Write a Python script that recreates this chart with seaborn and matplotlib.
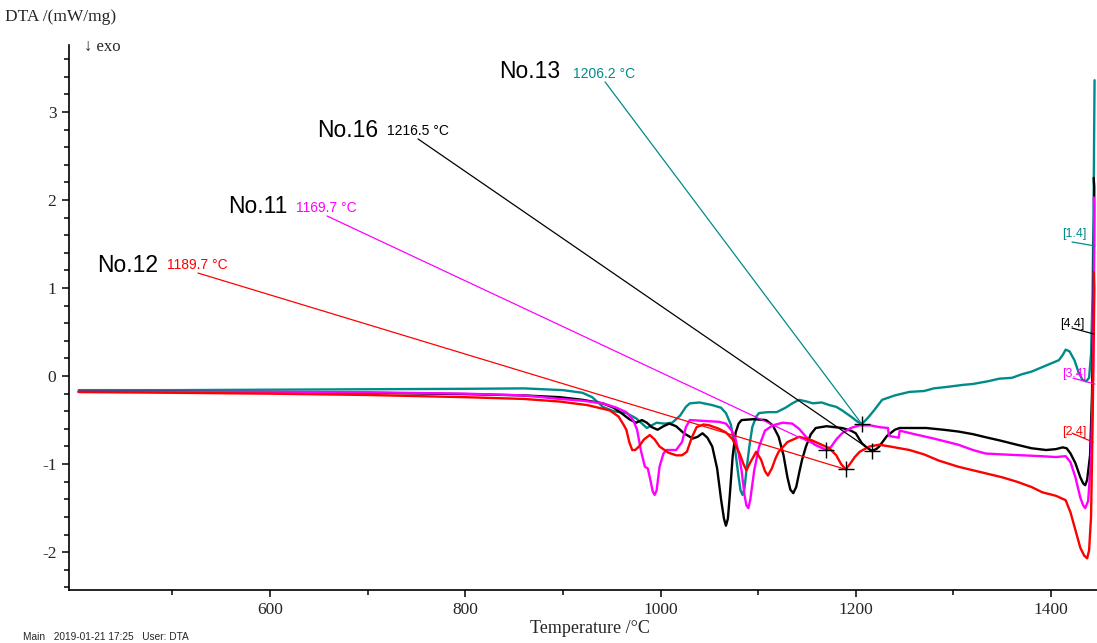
import matplotlib
matplotlib.use("Agg")
import matplotlib.pyplot as plt
from matplotlib.ticker import FixedLocator
import seaborn as sns
import pandas as pd

# ---- DTA curves: temperature (°C) and signal (mW/mg) ----
t_no13 = [404, 500, 600, 700, 800, 860, 900, 920, 930, 941, 952, 965, 975, 986, 991, 996,
          1004, 1012, 1020, 1026, 1030, 1040, 1053, 1062, 1067, 1072, 1076, 1080, 1082, 1084,
          1086, 1088, 1091, 1094, 1098, 1101, 1110, 1119, 1128, 1135, 1142, 1150, 1156, 1165,
          1173, 1180, 1186, 1195, 1202, 1206.2, 1212, 1218, 1227, 1240, 1255, 1270, 1280, 1296,
          1310, 1320, 1335, 1347, 1360, 1370, 1380, 1395, 1408, 1412, 1415, 1419, 1424, 1428,
          1432, 1436, 1439, 1441, 1442.5, 1443.5, 1444.2, 1444.6]
v_no13 = [-0.16, -0.16, -0.155, -0.15, -0.145, -0.14, -0.16, -0.19, -0.24, -0.35, -0.40, -0.42,
          -0.48, -0.59, -0.56, -0.53, -0.54, -0.53, -0.45, -0.35, -0.31, -0.30, -0.33, -0.36,
          -0.42, -0.55, -0.80, -1.15, -1.30, -1.35, -1.28, -1.07, -0.80, -0.58, -0.46, -0.42,
          -0.41, -0.41, -0.36, -0.31, -0.27, -0.29, -0.31, -0.30, -0.33, -0.35, -0.39, -0.46,
          -0.52, -0.545, -0.48, -0.40, -0.27, -0.22, -0.18, -0.17, -0.14, -0.12, -0.10, -0.09,
          -0.06, -0.03, -0.02, 0.02, 0.05, 0.12, 0.18, 0.24, 0.30, 0.28, 0.18, 0.05, -0.04,
          -0.06, -0.02, 0.25, 0.90, 1.80, 2.80, 3.36]

t_no16 = [404, 500, 600, 700, 800, 860, 897, 920, 941, 952, 961, 968, 975, 981, 986, 991, 997,
          1003, 1009, 1016, 1024, 1033, 1038, 1043, 1048, 1053, 1058, 1062, 1065, 1067, 1069,
          1071, 1074, 1077, 1080, 1083, 1095, 1108, 1115, 1121, 1126, 1130, 1133, 1136, 1139,
          1142, 1145, 1149, 1154, 1159, 1170, 1186, 1195, 1200, 1206, 1211, 1216.5, 1221, 1224,
          1232, 1240, 1245, 1272, 1290, 1305, 1320, 1335, 1347, 1365, 1380, 1395, 1405, 1412,
          1416, 1420, 1425, 1430, 1433, 1435, 1437, 1440, 1442, 1443.4, 1444.2, 1444.3, 1443.7]
v_no16 = [-0.18, -0.18, -0.185, -0.19, -0.205, -0.22, -0.24, -0.27, -0.31, -0.36, -0.43, -0.49,
          -0.53, -0.50, -0.53, -0.58, -0.61, -0.57, -0.54, -0.57, -0.65, -0.71, -0.69, -0.65,
          -0.70, -0.80, -1.05, -1.40, -1.62, -1.70, -1.62, -1.35, -0.90, -0.64, -0.54, -0.50,
          -0.49, -0.50, -0.56, -0.69, -0.90, -1.15, -1.29, -1.33, -1.26, -1.10, -0.95, -0.80,
          -0.66, -0.59, -0.57, -0.59, -0.62, -0.65, -0.76, -0.81, -0.85, -0.83, -0.80, -0.68,
          -0.61, -0.59, -0.59, -0.61, -0.63, -0.66, -0.70, -0.73, -0.78, -0.82, -0.84, -0.83,
          -0.81, -0.82, -0.88, -0.99, -1.15, -1.22, -1.24, -1.18, -0.90, -0.20, 0.80, 1.80, 2.15,
          2.25]

t_no11 = [404, 500, 600, 700, 800, 860, 897, 920, 941, 955, 965, 972, 976, 980, 984, 987, 990,
          992, 994, 996, 999, 1003, 1006, 1016, 1022, 1026, 1030, 1045, 1060, 1067, 1073, 1077,
          1080, 1083, 1086, 1088, 1090, 1092, 1096, 1101, 1107, 1115, 1125, 1135, 1142, 1149,
          1158, 1166, 1169.7, 1175, 1180, 1186, 1195, 1204, 1215, 1224, 1233, 1234, 1244, 1245,
          1260, 1280, 1305, 1320, 1333, 1350, 1370, 1390, 1405, 1415, 1420, 1425, 1430, 1433,
          1435, 1438, 1441, 1443, 1444.3, 1444.2, 1443.8]
v_no11 = [-0.18, -0.18, -0.18, -0.185, -0.20, -0.22, -0.26, -0.28, -0.31, -0.36, -0.41, -0.50,
          -0.61, -0.85, -1.03, -1.05, -1.20, -1.31, -1.35, -1.30, -1.03, -0.88, -0.84, -0.84,
          -0.75, -0.58, -0.50, -0.51, -0.52, -0.54, -0.62, -0.72, -0.88, -1.07, -1.35, -1.47,
          -1.50, -1.40, -1.07, -0.80, -0.62, -0.56, -0.53, -0.54, -0.60, -0.69, -0.78, -0.82,
          -0.84, -0.80, -0.72, -0.65, -0.59, -0.56, -0.56, -0.58, -0.59, -0.68, -0.70, -0.62,
          -0.66, -0.71, -0.78, -0.84, -0.88, -0.89, -0.90, -0.91, -0.92, -0.91, -0.98, -1.15,
          -1.38, -1.47, -1.50, -1.42, -0.95, 0.00, 1.50, 1.90, 2.03]

t_no12 = [404, 500, 600, 700, 800, 860, 897, 925, 948, 957, 962, 965, 968, 971, 974, 978, 983,
          989, 994, 999, 1008, 1016, 1022, 1027, 1032, 1037, 1044, 1050, 1060, 1067, 1074, 1081,
          1085, 1088, 1092, 1098, 1103, 1107, 1110, 1114, 1118, 1121, 1130, 1142, 1155, 1165,
          1173, 1180, 1185, 1189.7, 1194, 1199, 1204, 1214, 1224, 1235, 1255, 1270, 1285, 1305,
          1320, 1335, 1350, 1365, 1380, 1391, 1405, 1415, 1420, 1425, 1430, 1434, 1437, 1439,
          1441, 1442.5, 1443.8, 1444.4, 1443.9]
v_no12 = [-0.18, -0.19, -0.20, -0.215, -0.24, -0.26, -0.29, -0.33, -0.39, -0.46, -0.55, -0.61,
          -0.75, -0.84, -0.84, -0.80, -0.72, -0.67, -0.72, -0.80, -0.87, -0.90, -0.90, -0.86,
          -0.70, -0.58, -0.55, -0.56, -0.60, -0.64, -0.72, -0.88, -1.00, -1.07, -0.98, -0.86,
          -0.95, -1.08, -1.13, -1.05, -0.93, -0.86, -0.75, -0.69, -0.73, -0.78, -0.82, -0.90,
          -1.00, -1.06, -1.00, -0.92, -0.86, -0.80, -0.78, -0.80, -0.84, -0.89, -0.96, -1.03,
          -1.07, -1.11, -1.15, -1.20, -1.26, -1.32, -1.36, -1.41, -1.55, -1.75, -1.95, -2.04,
          -2.07, -1.98, -1.60, -0.60, 0.50, 1.00, 1.18]

# ---- peak evaluations ----
sample_names = ["No.13", "No.16", "No.11", "No.12"]
peak_temps = [1206.2, 1216.5, 1169.7, 1189.7]
peak_values = [-0.545, -0.85, -0.84, -1.06]
curve_tags = ["[1.4]", "[4.4]", "[3.4]", "[2.4]"]
colors = ["#008b8b", "#000000", "#ff00ff", "#ff0000"]

# axis ticks
x_major = [600, 800, 1000, 1200, 1400]
x_minor = [500, 700, 900, 1100, 1300]
y_major = [-2, -1, 0, 1, 2, 3]
y_minor = [round(-2.4 + 0.2 * k, 1) for k in range(31)]

# label anchors (temperature, signal) for peak callouts
name_pos = [(897.1, 3.386), (710.6, 2.716), (618.4, 1.852), (485.3, 1.182)]
temp_pos = [(910.4, 3.386), (719.8, 2.739), (626.6, 1.864), (494.5, 1.216)]
leader_start = [(943.2, 3.341), (751.6, 2.693), (658.4, 1.818), (526.2, 1.170)]

# curve tags at right end
tag_pos = [(1411.3, 1.580), (1409.2, 0.557), (1411.3, -0.011), (1411.3, -0.670)]
tag_line = [((1421.5, 1.523), (1445.1, 1.477)),
            ((1421.5, 0.545), (1444.0, 0.477)),
            ((1422.5, -0.023), (1445.1, -0.091)),
            ((1421.5, -0.648), (1443.0, -0.750))]

sns.set_style("ticks")
plt.rcParams["axes.unicode_minus"] = False
SERIF = ["Liberation Serif", "DejaVu Serif"]
SANS = ["Liberation Sans", "DejaVu Sans"]

fig = plt.figure(figsize=(10.97, 6.43), dpi=100)
ax = fig.add_axes([69 / 1097, 53 / 643, 1028 / 1097, 545 / 643])

series = [(t_no13, v_no13), (t_no16, v_no16), (t_no11, v_no11), (t_no12, v_no12)]
draw_order = [3, 2, 0, 1]
for i in draw_order:
    t, v = series[i]
    df = pd.DataFrame({"T": t, "DTA": v})
    sns.lineplot(data=df, x="T", y="DTA", sort=False, estimator=None,
                 color=colors[i], linewidth=1.7, ax=ax, zorder=3 + i * 0.1)

# callouts
for i in range(4):
    ax.plot([leader_start[i][0], peak_temps[i]], [leader_start[i][1], peak_values[i]],
            color=colors[i], linewidth=0.9, zorder=5)
    ax.plot(peak_temps[i], peak_values[i], marker="+", color="#000000",
            markersize=12, markeredgewidth=1.0, linestyle="none", zorder=6)
    ax.text(name_pos[i][0], name_pos[i][1], sample_names[i], ha="right", va="baseline",
            fontsize=16.5, family=SANS, color="#000000")
    ax.text(temp_pos[i][0], temp_pos[i][1], f"{peak_temps[i]:.1f} °C", ha="left",
            va="baseline", fontsize=10, family=SANS, color=colors[i])
    ax.text(tag_pos[i][0], tag_pos[i][1], curve_tags[i], ha="left", va="baseline",
            fontsize=9, family=SANS, color=colors[i])
    (x0, y0), (x1, y1) = tag_line[i]
    ax.plot([x0, x1], [y0, y1], color=colors[i], linewidth=0.9, zorder=5)

ax.set_xlim(394.1, 1447.1)
ax.set_ylim(-2.43, 3.76)
ax.xaxis.set_major_locator(FixedLocator(x_major))
ax.xaxis.set_minor_locator(FixedLocator(x_minor))
ax.yaxis.set_major_locator(FixedLocator(y_major))
ax.yaxis.set_minor_locator(FixedLocator(y_minor))

sns.despine(ax=ax)
for side in ("left", "bottom"):
    ax.spines[side].set_linewidth(1.2)
    ax.spines[side].set_color("#000000")
ax.tick_params(which="major", direction="out", length=5, width=1.1, color="#000000",
               labelsize=12.5, pad=4)
ax.tick_params(which="minor", direction="out", length=3.5, width=1.1, color="#000000")
for lab in ax.get_xticklabels() + ax.get_yticklabels():
    lab.set_family(SERIF)

ax.set_xlabel("Temperature /°C", family=SERIF, fontsize=13)
ax.xaxis.set_label_coords((590 - 69) / 1028, (590 - 620) / 545)
ax.set_ylabel("")

fig.text(5 / 1097, 1 - 17 / 643, "DTA /(mW/mg)", ha="left", va="center",
         family=SERIF, fontsize=12.5)
fig.text(84 / 1097, 1 - 47 / 643, "↓ exo", ha="left", va="center",
         family=SERIF, fontsize=12)
fig.text(23 / 1097, 1 - 637 / 643, "Main   2019-01-21 17:25   User: DTA", ha="left",
         va="center", family=SANS, fontsize=7.3)

fig.savefig("out.png", dpi=100)
